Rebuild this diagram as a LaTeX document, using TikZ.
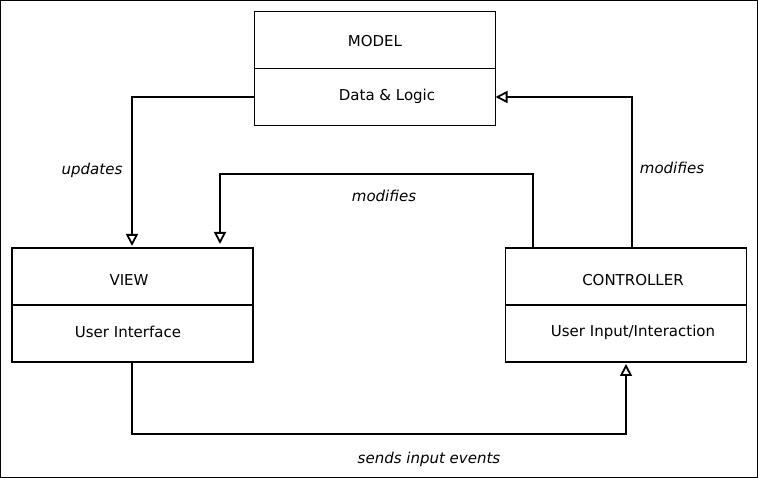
\documentclass[tikz,border=0pt]{standalone}
\usepackage{fontspec}
\setmainfont{DejaVu Sans}
\usetikzlibrary{positioning,calc,arrows.meta}

\begin{document}
\begin{tikzpicture}[x=1pt, y=-1pt,
    part/.style={draw, line width=1.6pt, outer sep=0pt, minimum width=241pt, minimum height=57pt, inner sep=0pt},
    flow/.style={draw, line width=2pt, -{Triangle[open, length=12pt, width=12pt, line width=1.8pt]}},
    lbl/.style={font=\itshape}]
    \fontsize{15}{18}\selectfont
    % frame
    \useasboundingbox (0,0) rectangle (758,478);
    \draw[line width=1pt] (0.5,0.5) rectangle (757.5,477.5);

    % the three components
    \node[part] (modelhead) at (375,40) {};
    \node[part, below=0pt of modelhead] (modelbody) {};
    \node[part] (viewhead) at (132.5,276.5) {};
    \node[part, below=0pt of viewhead] (viewbody) {};
    \node[part] (ctrlhead) at (626,276.5) {};
    \node[part, below=0pt of ctrlhead] (ctrlbody) {};

    \node (modeltxt) at ([yshift=-1pt]modelhead.center) {MODEL};
    \node (datatxt) at ([xshift=12pt, yshift=1pt]modelbody.center) {Data \& Logic};
    \node (viewtxt) at ([xshift=-3.5pt, yshift=-4pt]viewhead.center) {VIEW};
    \node (uitxt) at ([xshift=-4.5pt, yshift=2pt]viewbody.center) {User Interface};
    \node (ctrltxt) at ([xshift=7pt, yshift=-4pt]ctrlhead.center) {CONTROLLER};
    \node (inputtxt) at ([xshift=7pt, yshift=1pt]ctrlbody.center) {User Input/Interaction};

    % connectors
    \coordinate (bendtop) at (376,174);
    \coordinate (bendlow) at (376,434);
    \draw[flow, shorten >=2pt] (modelbody.west) -| ([xshift=-0.5pt]viewhead.north);
    \draw[flow, shorten >=4pt] ([xshift=-93pt]ctrlhead.north) |- (bendtop) -| ([xshift=87.5pt]viewhead.north);
    \draw[flow] ([xshift=6pt]ctrlhead.north) |- (modelbody.east);
    \draw[flow, shorten >=2pt] ([xshift=-0.5pt]viewbody.south) |- (bendlow) -| (ctrlbody.south);

    \node[lbl] (updates) at (92,170) {updates};
    \node[lbl] (modifiesv) at (384,196) {modifies};
    \node[lbl] (modifiesm) at (672,168) {modifies};
    \node[lbl] (sends) at (429,459) {sends input events};
\end{tikzpicture}
\end{document}
